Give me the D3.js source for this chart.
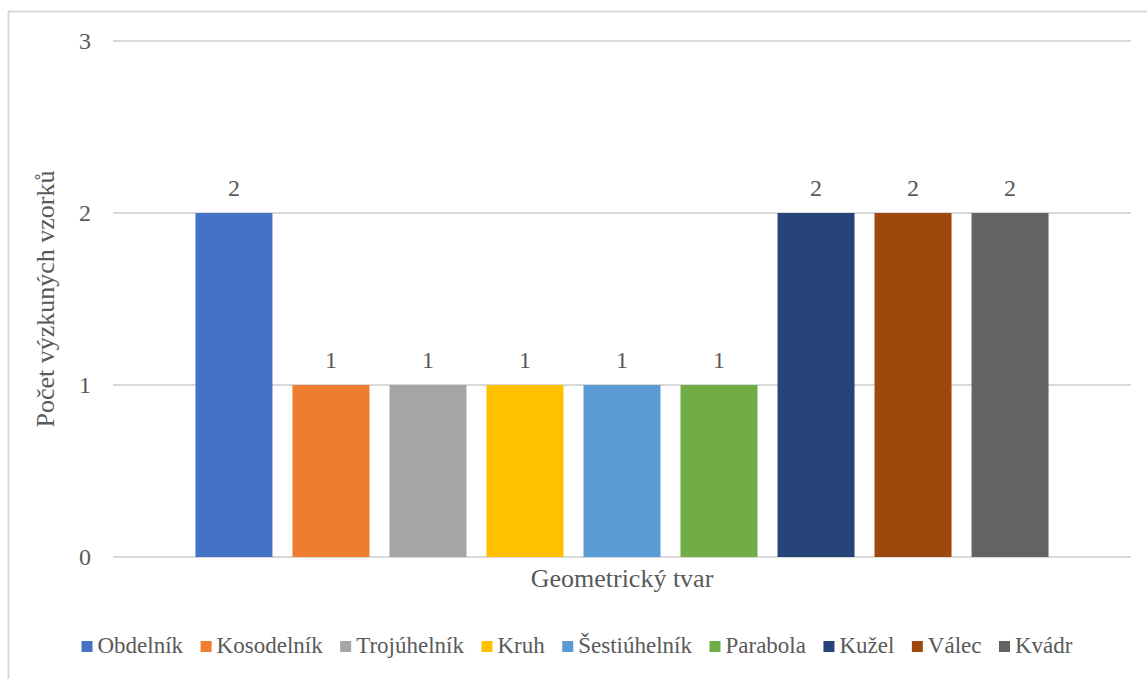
<!DOCTYPE html>
<html>
<head>
<meta charset="utf-8">
<script src="https://cdn.jsdelivr.net/npm/d3@7"></script>
<style>
  body { margin: 0; background: #fff; }
  svg text { font-family: "Liberation Serif", "Times New Roman", serif; fill: #595959; }
</style>
</head>
<body>
<svg width="1147" height="679"></svg>
<script>
// data
var shapes = ["Obdelník", "Kosodelník", "Trojúhelník", "Kruh", "Šestiúhelník", "Parabola", "Kužel", "Válec", "Kvádr"];
var counts = [2, 1, 1, 1, 1, 1, 2, 2, 2];
var colors = ["#4472c4", "#ed7d31", "#a5a5a5", "#ffc000", "#5b9bd5", "#70ad47", "#264478", "#9e480e", "#636363"];
var yTicks = [0, 1, 2, 3];

var svg = d3.select("svg"),
    margin = {top: 41, right: 16, bottom: 122, left: 113},
    width = 1147 - margin.left - margin.right,
    height = 679 - margin.top - margin.bottom,
    g = svg.append("g")
      .attr("transform", "translate(" + margin.left + "," + margin.top + ")");

// chart border
svg.append("rect")
    .attr("x", 8.5).attr("y", 11.5)
    .attr("width", 1160).attr("height", 700)
    .attr("fill", "none")
    .attr("stroke", "#d9d9d9")
    .attr("stroke-width", 2);

var x = d3.scaleBand()
    .domain(shapes)
    .range([0, width])
    .paddingInner(20 / 97)
    .paddingOuter(0.85);

var y = d3.scaleLinear()
    .domain([0, 3])
    .range([height, 0]);

// gridlines
g.selectAll(".grid")
  .data(yTicks)
  .enter().append("line")
    .attr("class", "grid")
    .attr("x1", 0).attr("x2", width)
    .attr("y1", function(d) { return y(d); })
    .attr("y2", function(d) { return y(d); })
    .attr("stroke", "#d9d9d9")
    .attr("stroke-width", 2);

// y axis labels
var yAxis = g.append("g")
    .call(d3.axisLeft(y).tickValues(yTicks).tickFormat(d3.format("d")).tickSize(0).tickPadding(22));
yAxis.select(".domain").remove();
yAxis.selectAll("text").style("font-size", "24px").attr("fill", "#595959");

// bars
g.selectAll(".bar")
  .data(counts)
  .enter().append("rect")
    .attr("class", "bar")
    .attr("x", function(d, i) { return x(shapes[i]); })
    .attr("y", function(d) { return y(d); })
    .attr("width", x.bandwidth())
    .attr("height", function(d) { return height - y(d); })
    .attr("fill", function(d, i) { return colors[i]; });

// value labels
g.selectAll(".lbl")
  .data(counts)
  .enter().append("text")
    .attr("class", "lbl")
    .attr("x", function(d, i) { return x(shapes[i]) + x.bandwidth() / 2; })
    .attr("y", function(d) { return y(d) - 17; })
    .attr("text-anchor", "middle")
    .style("font-size", "24px")
    .text(function(d) { return d; });

// axis titles
g.append("text")
    .attr("x", width / 2)
    .attr("y", height + 30)
    .attr("text-anchor", "middle")
    .style("font-size", "26px")
    .text("Geometrický tvar");

svg.append("text")
    .attr("transform", "translate(54," + (margin.top + height / 2) + ") rotate(-90)")
    .attr("text-anchor", "middle")
    .style("font-size", "26px")
    .text("Počet výzkuných vzorků");

// legend
var legend = svg.append("g");
var items = legend.selectAll(".item")
  .data(shapes)
  .enter().append("g")
    .attr("class", "item");
items.append("rect")
    .attr("width", 11).attr("height", 11)
    .attr("y", 641)
    .attr("fill", function(d, i) { return colors[i]; });
items.append("text")
    .attr("x", 16)
    .attr("y", 653)
    .style("font-size", "23px")
    .text(function(d) { return d; });

var pos = 0;
items.each(function() {
  var w = d3.select(this).select("text").node().getComputedTextLength();
  d3.select(this).attr("transform", "translate(" + pos + ",0)");
  pos += 16 + w + 17.5;
});
pos -= 17.5;
legend.attr("transform", "translate(" + (577 - pos / 2) + ",0)");
</script>
</body>
</html>
